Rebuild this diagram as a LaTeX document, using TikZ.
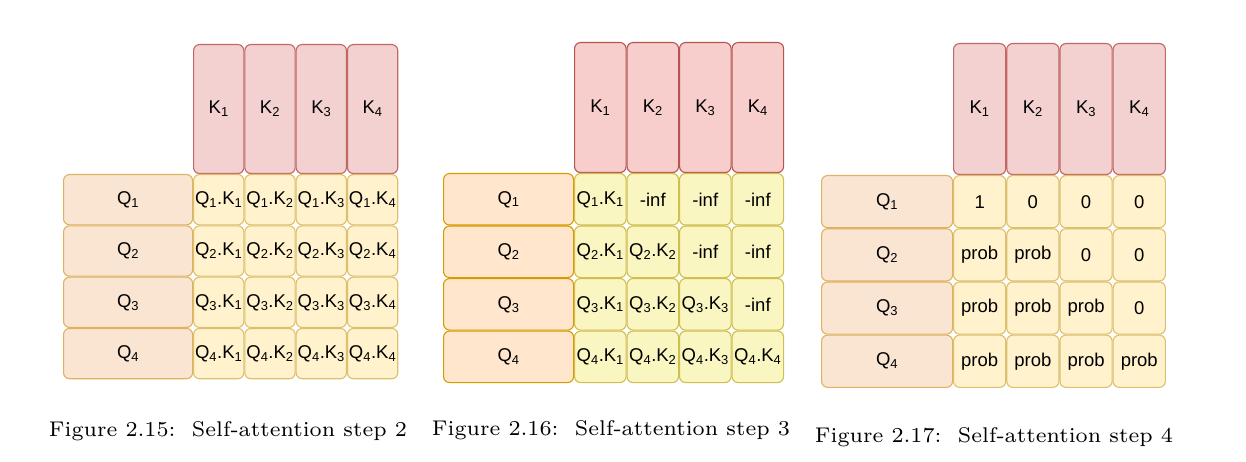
\documentclass[tikz,border=0pt]{standalone}
\usepackage{fontspec}
\newfontfamily\cellfont{Liberation Sans}
\usetikzlibrary{positioning}
\definecolor{kpale}{RGB}{242,209,208}
\definecolor{kpink}{RGB}{248,206,204}
\definecolor{klinepale}{RGB}{192,104,100}
\definecolor{kline}{RGB}{184,84,80}
\definecolor{qpale}{RGB}{250,229,211}
\definecolor{qpeach}{RGB}{255,230,204}
\definecolor{qlinepale}{RGB}{222,178,96}
\definecolor{qline}{RGB}{215,155,0}
\definecolor{cpale}{RGB}{255,242,205}
\definecolor{clime}{RGB}{249,246,193}
\definecolor{clinepale}{RGB}{220,192,110}
\definecolor{cline}{RGB}{208,190,80}

\begin{document}
\begin{tikzpicture}[x=1pt,y=-1pt,line width=1.1pt,
    box/.style={rounded corners=6pt,inner sep=0pt,anchor=north west,
      font=\cellfont\fontsize{18.5}{21}\selectfont},
    caption/.style={anchor=base,inner sep=0pt}]
  \useasboundingbox (0,0) rectangle (1246,462);
  % one panel per step: Q column, K row, score grid, caption
  \foreach \p/\qx/\kx/\ky/\ty/\s/\kf/\kd/\qf/\qd/\cf/\cd/\cx/\cy/\fig/\stp in
      {1/63/193/44/174/51.3/kpale/klinepale/qpale/qlinepale/cpale/clinepale/228/436/15/2,
       2/443/574/42/173/52.5/kpink/kline/qpeach/qline/clime/cline/611/435/16/3,
       3/821/953/43/175/53.2/kpale/klinepale/qpale/qlinepale/cpale/clinepale/994/442/17/4}{
    \foreach \col in {1,...,4}
      \node[box,draw=\kd,fill=\kf,minimum width={\s*1pt-1pt},minimum height={(\ty-\ky-1)*1pt}]
        (k\p-\col) at ({\kx+(\col-1)*\s},\ky) {K\textsubscript{\col}};
    \foreach \row in {1,...,4}{
      \node[box,draw=\qd,fill=\qf,minimum width={(\kx-\qx-1)*1pt},minimum height={\s*1pt-1pt}]
        (q\p-\row) at ({\qx},{\ty+(\row-1)*\s}) {Q\textsubscript{\row}};
      \foreach \col in {1,...,4}
        \node[box,draw=\cd,fill=\cf,minimum width={\s*1pt-1pt},minimum height={\s*1pt-1pt}]
          (c\p-\row-\col) at ({\kx+(\col-1)*\s},{\ty+(\row-1)*\s})
          {\ifcase\p\or
             Q\textsubscript{\row}.K\textsubscript{\col}%
           \or
             \ifnum\col>\row\relax -inf\else Q\textsubscript{\row}.K\textsubscript{\col}\fi
           \or
             \ifnum\col>\row\relax 0\else\ifnum\row=1\relax 1\else prob\fi\fi
           \fi};
    }
    \node[caption] (cap\p) at (\cx,\cy)
      {\resizebox{358pt}{!}{\fontsize{7}{8}\selectfont Figure 2.\fig:\ \ Self-attention step \stp}};
  }
\end{tikzpicture}
\end{document}
